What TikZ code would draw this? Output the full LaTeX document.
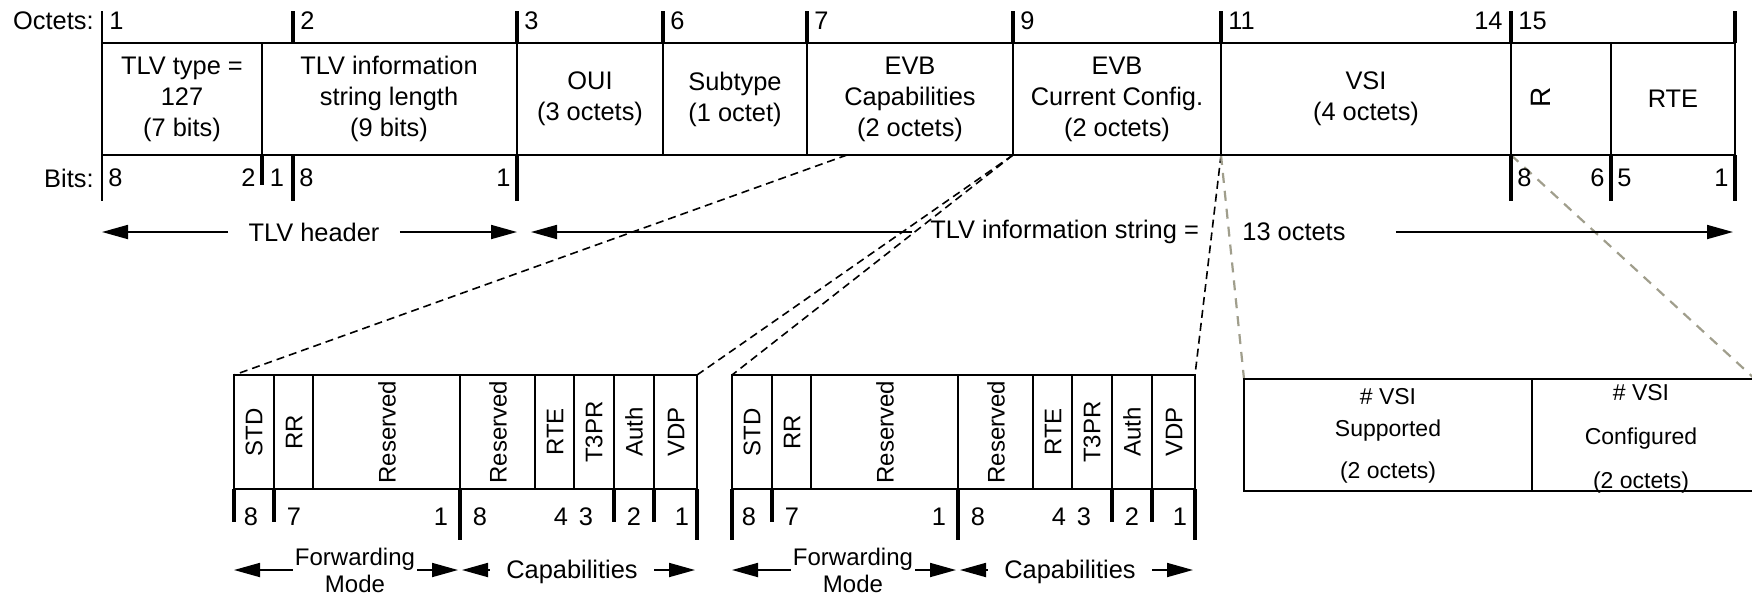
\documentclass[tikz,border=0pt]{standalone}
\usepackage{fontspec}
\setmainfont{Liberation Sans}
\usetikzlibrary{arrows.meta}
\definecolor{zoomgray}{RGB}{160,158,140}
\tikzset{
  fld/.style={line width=0.9pt},
  bar/.style={line width=1.6pt},
  zoomline/.style={line width=0.8pt, dash pattern=on 4pt off 2.5pt},
  zoomgrey/.style={line width=1.1pt, draw=zoomgray, dash pattern=on 5pt off 4pt},
  lenarrow/.style={line width=0.9pt, -{Triangle[length=13pt,width=7pt]}},
  lbl/.style={font=\fontsize{12.7}{15.5}\selectfont, inner sep=0pt},
  small/.style={font=\fontsize{12}{13.5}\selectfont, inner sep=0pt},
  vert/.style={small, rotate=90},
  vsitxt/.style={font=\fontsize{11.5}{16}\selectfont, inner sep=0pt, align=center},
}

\begin{document}
\begin{tikzpicture}[x=0.5pt, y=-0.5pt]
  \useasboundingbox (0,0) rectangle (1752,596);

  \coordinate (capsB) at (847,155);
  \coordinate (cfgB) at (1013,155);
  \coordinate (vsiB) at (1221,155);
  \coordinate (rB) at (1511,155);
  \coordinate (capTL) at (234,375);
  \coordinate (capTR) at (697,375);
  \coordinate (cfgTL) at (732,375);
  \coordinate (cfgTR) at (1195,375);
  \coordinate (vsiTL) at (1244,379);
  \coordinate (vsiTR) at (1755,379);

  \draw[zoomline] (capsB) -- (capTL);
  \draw[zoomline] (cfgB) -- (capTR);
  \draw[zoomline] (cfgB) -- (cfgTL);
  \draw[zoomline] (vsiB) -- (cfgTR);
  \draw[zoomgrey] (vsiB) -- (vsiTL);
  \draw[zoomgrey] (rB) -- (vsiTR);

  \draw[fld] (102,43) rectangle (1735,155);
  \foreach \x in {262,517,663,807,1013,1221,1511,1611}
    \draw[fld] (\x,43) -- (\x,155);
  \foreach \x in {293,517,663,807,1013,1221,1511,1735}
    \draw[bar] (\x,11) -- (\x,43);
  \foreach \x in {293,517,1511,1611,1735}
    \draw[bar] (\x,155) -- (\x,201);
  \draw[bar] (262,155) -- (262,185);
  \draw[fld] (102,11) -- (102,43) (102,155) -- (102,201);

  \node[lbl, anchor=east] (octets) at (94,21) {Octets:};
  \foreach \x/\t in {102/1, 293/2, 517/3, 663/6, 807/7, 1013/9, 1221/11, 1511/15}
    \node[lbl, anchor=west] (oct\t) at (\x+7,21) {\t};
  \node[lbl, anchor=east] (oct14) at (1503,21) {14};

  \node[lbl, anchor=east] (bits) at (94,178) {Bits:};
  \node[lbl, anchor=west] (b8a) at (108,178) {8};
  \node[lbl, anchor=east] (b2a) at (256,178) {2};
  \node[lbl] (b1a) at (277,178) {1};
  \node[lbl, anchor=west] (b8b) at (299,178) {8};
  \node[lbl, anchor=east] (b1b) at (511,178) {1};
  \node[lbl, anchor=west] (b8c) at (1517,178) {8};
  \node[lbl, anchor=east] (b6c) at (1605,178) {6};
  \node[lbl, anchor=west] (b5c) at (1617,178) {5};
  \node[lbl, anchor=east] (b1c) at (1729,178) {1};

  \node[lbl, align=center] (tlvtype) at (182,99) {TLV type =\\127\\(7 bits)};
  \node[lbl, align=center] (tlvlen) at (389,99) {TLV information\\string length\\(9 bits)};
  \node[lbl, align=center] (oui) at (590,99) {OUI\\(3 octets)};
  \node[lbl, align=center] (subtype) at (735,99) {Subtype\\(1 octet)};
  \node[lbl, align=center] (evbcap) at (910,99) {EVB\\Capabilities\\(2 octets)};
  \node[lbl, align=center] (evbcfg) at (1117,99) {EVB\\Current Config.\\(2 octets)};
  \node[lbl, align=center] (vsi) at (1366,99) {VSI\\(4 octets)};
  \node[lbl, rotate=90, font=\fontsize{14}{16}\selectfont] (rbit) at (1541,97) {R};
  \node[lbl] (rte) at (1673,99) {RTE};

  \coordinate (hdrL) at (102,232);
  \coordinate (hdrR) at (517,232);
  \coordinate (infoL) at (531,232);
  \coordinate (infoR) at (1733,232);
  \node[lbl, inner xsep=10pt] (hdr) at (314,232) {TLV header};
  \node[lbl, anchor=west, inner xsep=9pt] (info) at (912,232) {TLV information string =};
  \node[lbl, anchor=west, inner xsep=25pt] (octs) at (1192,232) {13 octets};
  \draw[lenarrow] (hdr) -- (hdrL);
  \draw[lenarrow] (hdr) -- (hdrR);
  \draw[lenarrow] (info.west) -- (infoL);
  \draw[lenarrow] (octs.east) -- (infoR);

  \foreach \bx/\lt/\n in {234/522/a, 732/540/b} {
    \draw[fld] (\bx,375) rectangle ++(463,114);
    \foreach \d in {40,79,226,301,340,380,420}
      \draw[fld] (\bx+\d,375) -- ++(0,114);
    \draw[bar] (\bx,489) -- (\bx,\lt);
    \foreach \d/\e in {40/522, 226/540, 380/522, 420/522, 463/540}
      \draw[bar] (\bx+\d,489) -- (\bx+\d,\e);
    \foreach \c/\t in {20/STD, 60/RR, 153/Reserved, 264/Reserved, 321/RTE, 360/T3PR, 400/Auth, 442/VDP}
      \node[vert] at (\bx+\c,432) {\t};
    \foreach \c/\t in {17/8, 60/7, 207/1, 246/8, 327/4, 352/3, 400/2, 448/1}
      \node[lbl] at (\bx+\c,517) {\t};
    \coordinate (fl\n) at (\bx,570);
    \coordinate (fr\n) at (\bx+224,570);
    \coordinate (cl\n) at (\bx+228,570);
    \coordinate (cr\n) at (\bx+461,570);
    \node[small, align=center, inner xsep=1pt] (fwd\n) at (\bx+121,570) {Forwarding\\Mode};
    \node[lbl, inner xsep=8pt] (cap\n) at (\bx+338,572) {Capabilities};
    \draw[lenarrow] (fwd\n) -- (fl\n);
    \draw[lenarrow] (fwd\n) -- (fr\n);
    \draw[lenarrow] (cap\n.west |- cl\n) -- (cl\n);
    \draw[lenarrow] (cap\n.east |- cr\n) -- (cr\n);
  }

  \draw[fld] (vsiTL) rectangle (1755,491);
  \draw[fld] (1532,379) -- (1532,491);
  \node[vsitxt] (vsisup) at (1388,436) {\# VSI\\Supported\\[5pt](2 octets)};
  \node[vsitxt] (vsicfg) at (1641,439) {\# VSI\\[6pt]Configured\\[6pt](2 octets)};
\end{tikzpicture}
\end{document}
